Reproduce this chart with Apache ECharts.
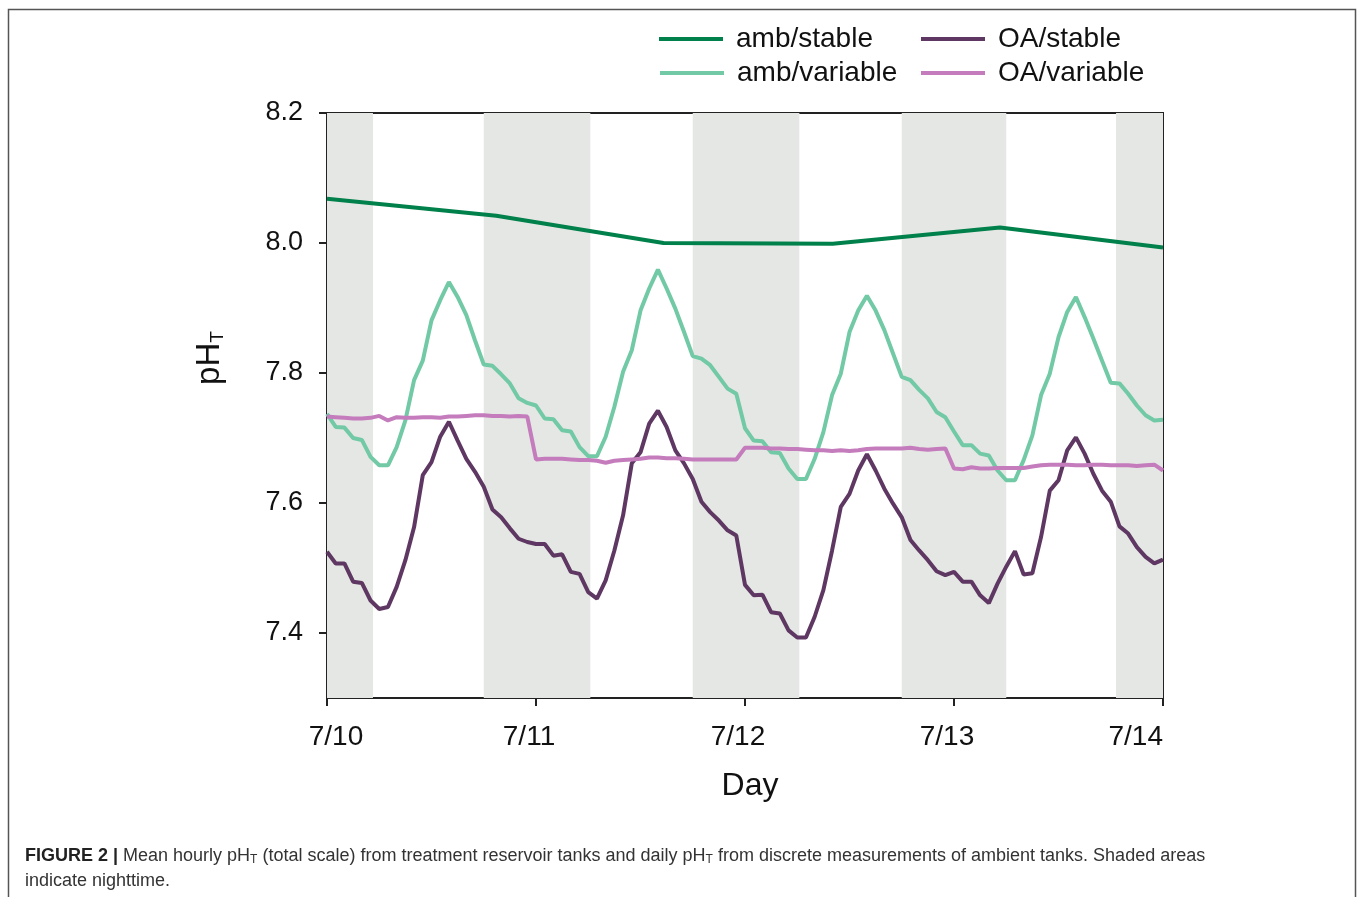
<!DOCTYPE html>
<html>
<head>
<meta charset="utf-8">
<script src="https://cdn.jsdelivr.net/npm/echarts@6/dist/echarts.min.js"></script>
<style>
html,body{margin:0;padding:0;background:#fff;}
#chart{width:1358px;height:897px;}
</style>
</head>
<body>
<div id="chart"></div>
<script>
// ---------- data ----------
const dayLabels = ['7/10', '7/11', '7/12', '7/13', '7/14'];
const yTickValues = [7.4, 7.6, 7.8, 8.0, 8.2];
// nighttime spans (days since 7/10 00:00)
const nightStart = [0.00, 0.75, 1.75, 2.75, 3.775];
const nightEnd   = [0.22, 1.26, 2.26, 3.25, 4.00];

// discrete daily measurements, ambient tanks
const ambStableDay = [0.00, 0.81, 1.61, 2.42, 3.22, 4.00];
const ambStable    = [8.068, 8.042, 8.000, 7.999, 8.024, 7.993];

// hourly means, hour 0..96 from 7/10 00:00
const ambVariable = [
  7.737,7.717,7.716,7.700,7.697,7.671,7.658,7.658,7.686,7.727,7.789,7.819,7.881,7.912,7.940,7.917,7.889,7.850,7.813,7.811,7.798,7.784,7.761,7.754,7.750,
  7.730,7.729,7.712,7.710,7.686,7.672,7.672,7.702,7.748,7.802,7.835,7.896,7.930,7.959,7.930,7.899,7.863,7.826,7.822,7.812,7.794,7.776,7.768,7.715,
  7.696,7.695,7.678,7.677,7.653,7.637,7.637,7.668,7.709,7.766,7.799,7.863,7.896,7.919,7.896,7.866,7.830,7.794,7.789,7.774,7.761,7.740,7.732,7.710,
  7.689,7.689,7.676,7.673,7.650,7.635,7.635,7.666,7.704,7.766,7.799,7.855,7.894,7.917,7.886,7.853,7.819,7.785,7.784,7.768,7.750,7.735,7.727,7.728
];
const oaStable = [
  7.525,7.507,7.507,7.479,7.477,7.450,7.437,7.440,7.471,7.512,7.563,7.643,7.663,7.702,7.725,7.696,7.668,7.648,7.625,7.590,7.578,7.561,7.545,7.540,7.537,
  7.537,7.519,7.521,7.494,7.491,7.463,7.453,7.481,7.527,7.581,7.661,7.678,7.722,7.742,7.717,7.681,7.661,7.637,7.602,7.586,7.573,7.558,7.550,7.474,
  7.458,7.459,7.432,7.430,7.404,7.393,7.393,7.425,7.466,7.527,7.594,7.614,7.650,7.675,7.650,7.622,7.599,7.578,7.543,7.527,7.512,7.495,7.489,7.494,
  7.479,7.479,7.458,7.446,7.476,7.502,7.526,7.490,7.492,7.548,7.619,7.635,7.681,7.701,7.676,7.645,7.619,7.602,7.564,7.553,7.532,7.517,7.507,7.513
];
const oaVariable = [
  7.733,7.732,7.731,7.730,7.730,7.731,7.734,7.727,7.732,7.731,7.731,7.732,7.732,7.731,7.733,7.733,7.734,7.735,7.735,7.734,7.734,7.733,7.734,7.733,
  7.667,
  7.668,7.668,7.668,7.667,7.666,7.666,7.665,7.662,7.665,7.666,7.667,7.668,7.670,7.670,7.669,7.669,7.668,7.667,7.667,7.667,7.667,7.667,7.667,
  7.685,
  7.685,7.685,7.684,7.684,7.683,7.683,7.682,7.681,7.681,7.680,7.681,7.680,7.681,7.683,7.684,7.684,7.684,7.684,7.685,7.683,7.682,7.683,7.684,
  7.653,
  7.652,7.655,7.653,7.653,7.654,7.654,7.654,7.654,7.656,7.658,7.659,7.659,7.659,7.658,7.658,7.659,7.659,7.658,7.658,7.658,7.657,7.658,7.659,
  7.650
];

// ---------- build ----------
const hourly = arr => arr.map((v, h) => [h / 24, v]);
const colors = {
  ambStable: '#00804a',
  ambVariable: '#72c9a5',
  oaStable: '#5e3762',
  oaVariable: '#c47cbd'
};
const FONT = 'Liberation Sans, Arial, Helvetica, sans-serif';
const legendText = { fontFamily: FONT, fontSize: 28, color: '#111', padding: [0, 0, 0, 8] };
function leg(name, left, top) {
  return {
    data: [name], left: left, top: top, padding: 0, icon: 'rect',
    itemWidth: 64, itemHeight: 4, textStyle: legendText, selectedMode: false
  };
}

const chart = echarts.init(document.getElementById('chart'), null, { renderer: 'canvas' });
const option = {
  backgroundColor: '#fff',
  animation: false,
  grid: { left: 327, right: 195, top: 113, bottom: 199, show: true, borderColor: '#222', borderWidth: 2, backgroundColor: 'transparent' },
  legend: [
    leg('amb/stable', 659, 25),
    leg('OA/stable', 921, 25),
    leg('amb/variable', 660, 59),
    leg('OA/variable', 921, 59)
  ],
  xAxis: {
    type: 'value', min: 0, max: 4, interval: 1,
    name: 'Day', nameLocation: 'middle', nameGap: 72,
    nameTextStyle: { fontFamily: FONT, fontSize: 32, color: '#111', padding: [0, 0, 0, 10] },
    axisLine: { lineStyle: { color: '#222', width: 2 } },
    axisTick: { show: true, inside: false, length: 8, lineStyle: { color: '#222', width: 2 } },
    axisLabel: { margin: 25, fontFamily: FONT, fontSize: 28, color: '#111', alignMaxLabel: 'right',
      formatter: v => {
        const i = Math.round(v);
        if (i === 0) return '{a|' + dayLabels[i] + '}';
        if (i === dayLabels.length - 1) return dayLabels[i];
        return '{m|' + dayLabels[i] + '}';
      },
      rich: {
        a: { fontFamily: FONT, fontSize: 28, color: '#111', padding: [0, 0, 0, 18] },
        m: { fontFamily: FONT, fontSize: 28, color: '#111', padding: [0, 14, 0, 0] }
      }
    },
    splitLine: { show: false }
  },
  yAxis: {
    type: 'value', min: 7.3, max: 8.2, interval: 0.1,
    name: 'pH{s|T}', nameLocation: 'middle', nameGap: 100, nameRotate: 90,
    nameTextStyle: { fontFamily: FONT, fontSize: 33, color: '#111', padding: [0, 0, 0, 95],
      rich: { s: { fontFamily: FONT, fontSize: 19, color: '#111', padding: [15, 0, 0, 0] } } },
    axisLine: { show: true, lineStyle: { color: '#222', width: 2 } },
    axisTick: { show: true, inside: false, length: 8, customValues: yTickValues, lineStyle: { color: '#222', width: 2 } },
    axisLabel: { margin: 24, fontFamily: FONT, fontSize: 27, color: '#111', customValues: yTickValues,
      formatter: v => v.toFixed(1) },
    splitLine: { show: false }
  },
  series: [
    {
      name: 'night', type: 'line', data: [], z: 1, silent: true,
      markArea: {
        silent: true,
        itemStyle: { color: '#e5e7e4' },
        data: nightStart.map((s, i) => [{ xAxis: s }, { xAxis: nightEnd[i] }])
      }
    },
    { name: 'amb/stable', type: 'line', z: 3, data: ambStableDay.map((d, i) => [d, ambStable[i]]),
      showSymbol: false, lineStyle: { color: colors.ambStable, width: 4 }, itemStyle: { color: colors.ambStable } },
    { name: 'amb/variable', type: 'line', z: 3, data: hourly(ambVariable),
      showSymbol: false, lineStyle: { color: colors.ambVariable, width: 4 }, itemStyle: { color: colors.ambVariable } },
    { name: 'OA/stable', type: 'line', z: 4, data: hourly(oaStable),
      showSymbol: false, lineStyle: { color: colors.oaStable, width: 4 }, itemStyle: { color: colors.oaStable } },
    { name: 'OA/variable', type: 'line', z: 5, data: hourly(oaVariable),
      showSymbol: false, lineStyle: { color: colors.oaVariable, width: 4 }, itemStyle: { color: colors.oaVariable } }
  ],
  graphic: [
    { type: 'rect', z: 0, shape: { x: 8.5, y: 9.5, width: 1347, height: 920 },
      style: { fill: 'none', stroke: '#555', lineWidth: 1.5 } },
    { type: 'text', left: 25, top: 847,
      style: {
        text: '{b|FIGURE 2 |} Mean hourly pH{s|T} (total scale) from treatment reservoir tanks and daily pH{s|T} from discrete measurements of ambient tanks. Shaded areas',
        fontFamily: FONT, fontSize: 18, fill: '#333',
        rich: {
          b: { fontFamily: FONT, fontSize: 18, fontWeight: 'bold', fill: '#222' },
          s: { fontFamily: FONT, fontSize: 12, fill: '#333', padding: [8, 0, 0, 0] }
        }
      } },
    { type: 'text', left: 25, top: 872,
      style: { text: 'indicate nighttime.', fontFamily: FONT, fontSize: 18, fill: '#333' } }
  ]
};
chart.setOption(option);
</script>
</body>
</html>
